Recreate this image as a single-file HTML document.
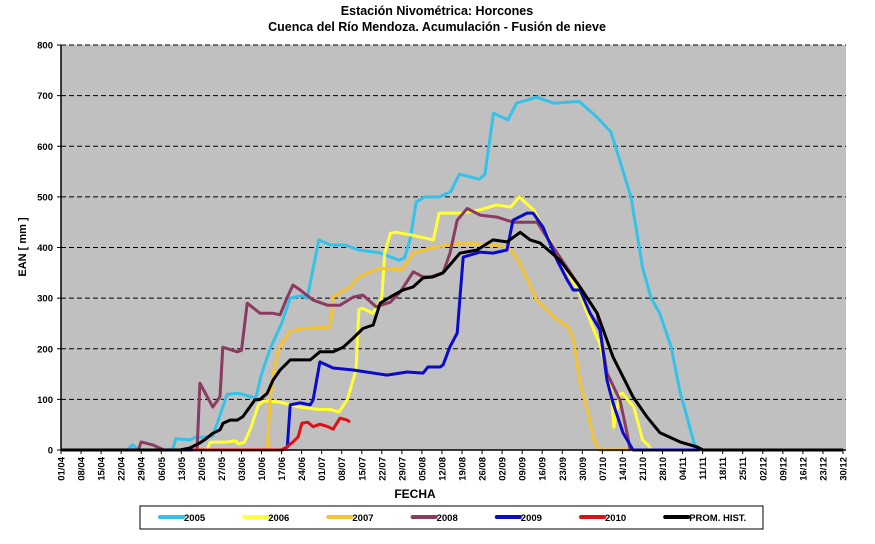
<!DOCTYPE html>
<html><head><meta charset="utf-8"><style>
body{margin:0;background:#fff;font-family:"Liberation Sans",sans-serif}
svg text{font-family:"Liberation Sans",sans-serif}
</style></head><body>
<svg id="chart" width="875" height="539" viewBox="0 0 875 539" xmlns="http://www.w3.org/2000/svg">
<text x="437" y="15" text-anchor="middle" font-size="12.5" font-weight="bold">Estación Nivométrica: Horcones</text>
<text x="437" y="31" text-anchor="middle" font-size="12.5" font-weight="bold">Cuenca del Río Mendoza. Acumulación - Fusión de nieve</text>
<rect x="61" y="45" width="785" height="405" fill="#c0c0c0"/>
<g id="grid"></g>
<g id="series"></g>
<line x1="61" y1="45" x2="61" y2="451" stroke="#000" stroke-width="1.5"/>
<line x1="61" y1="450" x2="846" y2="450" stroke="#000" stroke-width="1.5"/>
<g id="yticks"></g>
<g id="xticks"></g>
<text transform="translate(26,247) rotate(-90)" text-anchor="middle" font-size="11" font-weight="bold">EAN [ mm ]</text>
<text x="415" y="498" text-anchor="middle" font-size="12" font-weight="bold">FECHA</text>
<rect x="140" y="506" width="623" height="23" fill="#fff" stroke="#000" stroke-width="1"/>
<g id="legend"></g>
</svg>
<script>
const yTicks=[0,100,200,300,400,500,600,700,800];
const xLabels=["01/04","08/04","15/04","22/04","29/04","06/05","13/05","20/05","27/05","03/06","10/06","17/06","24/06","01/07","08/07","15/07","22/07","29/07","05/08","12/08","19/08","26/08","02/09","09/09","16/09","23/09","30/09","07/10","14/10","21/10","28/10","04/11","11/11","18/11","25/11","02/12","09/12","16/12","23/12","30/12"];
const seriesNames=["2005","2006","2007","2008","2009","2010","PROM. HIST."];
const seriesColors=["#33c3ea","#ffff33","#f5c431","#8b3a62","#0a0acb","#e01010","#000000"];
const days2005=[0,23,25,27,39,40,45,47,50,53,55,58,62,68,70,73,77,80,84,86,90,94,99,104,111,118,120,122,124,127,132,136,139,146,148,151,156,159,166,172,179,181,187,192,199,203,206,209,213,216,221,222,273];
const vals2005=[0,0,10,0,0,22,20,25,25,28,60,110,112,103,150,200,250,300,305,300,415,405,405,395,390,375,380,420,490,500,500,510,545,535,545,665,652,685,697,685,688,688,658,628,500,361,300,270,204,118,14,0,0];
const days2006=[0,51,52,58,61,62,64,66,69,71,76,83,90,94,97,100,103,104,105,109,112,113,115,117,122,130,132,140,146,152,157,160,165,172,181,186,188,192,193,195,196,200,203,205,206];
const vals2006=[0,0,15,16,18,12,15,40,90,97,95,85,80,80,75,100,158,277,280,270,300,389,428,430,425,415,468,468,474,484,480,500,474,400,310,237,211,118,45,110,112,85,20,10,0];
const days2007=[0,72,73,74,76,80,85,94,95,97,101,104,111,119,123,130,140,150,156,159,163,166,172,177,179,181,184,186,188,199];
const vals2007=[0,0,100,150,200,235,240,243,302,310,322,342,359,356,389,400,409,405,401,381,336,296,263,243,217,138,73,20,0,0];
const days2008=[0,27,28,32,36,47.5,48.5,53,55.5,56.5,61.5,63,65,69.5,74,76.5,79,81,83.5,88,93,97.4,102,105.4,110,115,118.4,123,126.4,129,133.4,135.8,138.3,141.8,146.3,152.2,157.8,166.2,171.8,181.2,187.2,190.6,195.1,197.6,198.7];
const vals2008=[0,0,16,10,0,0,132,85,105,203,194,197,290,270,270,267,302,326,316,296,286,286,302,306,283,292,312,352,342,342,350,389,454,477,464,460,450,450,401,322,270,152,99,34,0];
const days2009=[0,77,79,80,83.5,87,88,90.4,95,102,113.8,120.8,126.4,128.1,132.3,133.4,135.8,138.3,139.3,140.4,146.3,150.8,155.7,157.8,162.7,164.8,168.3,173.2,176.7,178.8,181.2,184.7,188.2,190.6,192.7,196.2,199.7,223];
const vals2009=[0,0,6,89,93,89,99,174,162,158,148,154,152,164,164,168,204,231,302,381,391,389,395,454,468,468,440,375,336,316,316,270,237,138,93,34,0,0];
const days2010=[46,77.5,81,82.8,84.1,86.2,88,90.4,93.2,95,97.4,99.9,100.9];
const vals2010=[0,0,16,26,53,55,46,51,46,41,63,59,55];
const daysProm=[0,41.5,45,48.5,50.3,53,55.5,56.6,59,61.5,63.5,66,67.7,69.5,72,74,76.5,80,83.5,87,90.4,95,98.5,102,105.4,109,111.4,114.9,119.4,122.9,126.4,129.9,133.4,139.3,145.3,150.8,155.7,160.3,163.8,167.2,174.2,181.2,187.2,192.7,199.7,204.6,209.1,216.1,222.1,224.2,273];
const valsProm=[0,0,4,14,21,33,40,53,59,59,66,86,99,100,112,138,158,178,178,178,194,194,203,221,240,247,290,302,316,322,340,342,350,389,395,415,411,430,415,409,375,322,270,184,105,65,34,16,6,0,0];

const NS="http://www.w3.org/2000/svg";
const X0=61,DAYPX=782/273,Y0=450,YPX=405/800;
function xs(d){return X0+d*DAYPX;}
function ys(v){return Y0-v*YPX;}
function mk(t,a){const e=document.createElementNS(NS,t);for(const k in a)e.setAttribute(k,a[k]);return e;}
const grid=document.getElementById('grid'),yt=document.getElementById('yticks'),xt=document.getElementById('xticks');
yTicks.forEach(v=>{
  if(v>0){const l=mk('line',{x1:X0,x2:846,y1:ys(v),y2:ys(v),stroke:'#000','stroke-width':1,'stroke-dasharray':'5,3'});
  
  
  grid.appendChild(l);}
  const tk=mk('line',{x1:X0-4,x2:X0,y1:ys(v),y2:ys(v),stroke:'#000'});
  
  
  yt.appendChild(tk);
  const t=mk('text',{x:X0-8,y:ys(v)+3.5,'text-anchor':'end','font-size':9.5,'font-weight':'bold'});
  t.textContent=v;
  
  
  yt.appendChild(t);
});
xLabels.forEach((s,i)=>{
  const x=xs(i*7);
  const tk=mk('line',{x1:x,x2:x,y1:450,y2:454,stroke:'#000'});
  
  
  xt.appendChild(tk);
  const t=mk('text',{transform:`translate(${x+3.5},457) rotate(-90)`,'text-anchor':'end','font-size':9.5,'font-weight':'bold'});
  t.textContent=s;
  
  
  xt.appendChild(t);
});
const allDays=[days2005,days2006,days2007,days2008,days2009,days2010,daysProm];
const allVals=[vals2005,vals2006,vals2007,vals2008,vals2009,vals2010,valsProm];
const sg=document.getElementById('series');
allDays.forEach((ds,si)=>{
  const pts=ds.map((d,i)=>xs(d).toFixed(1)+','+ys(allVals[si][i]).toFixed(1)).join(' ');
  const p=mk('polyline',{points:pts,fill:'none',stroke:seriesColors[si],'stroke-width':3,'stroke-linejoin':'round'});
  
  
  sg.appendChild(p);
});
const lg=document.getElementById('legend');
seriesNames.forEach((n,i)=>{
  const x=160+i*84.2;
  const l=mk('line',{x1:x,x2:x+23,y1:517,y2:517,stroke:seriesColors[i],'stroke-width':4,'stroke-linecap':'round'});
  
  
  lg.appendChild(l);
  const t=mk('text',{x:x+24,y:521,'font-size':9.5,'font-weight':'bold'});
  t.textContent=n;
  
  
  lg.appendChild(t);
});
</script>
</body></html>
